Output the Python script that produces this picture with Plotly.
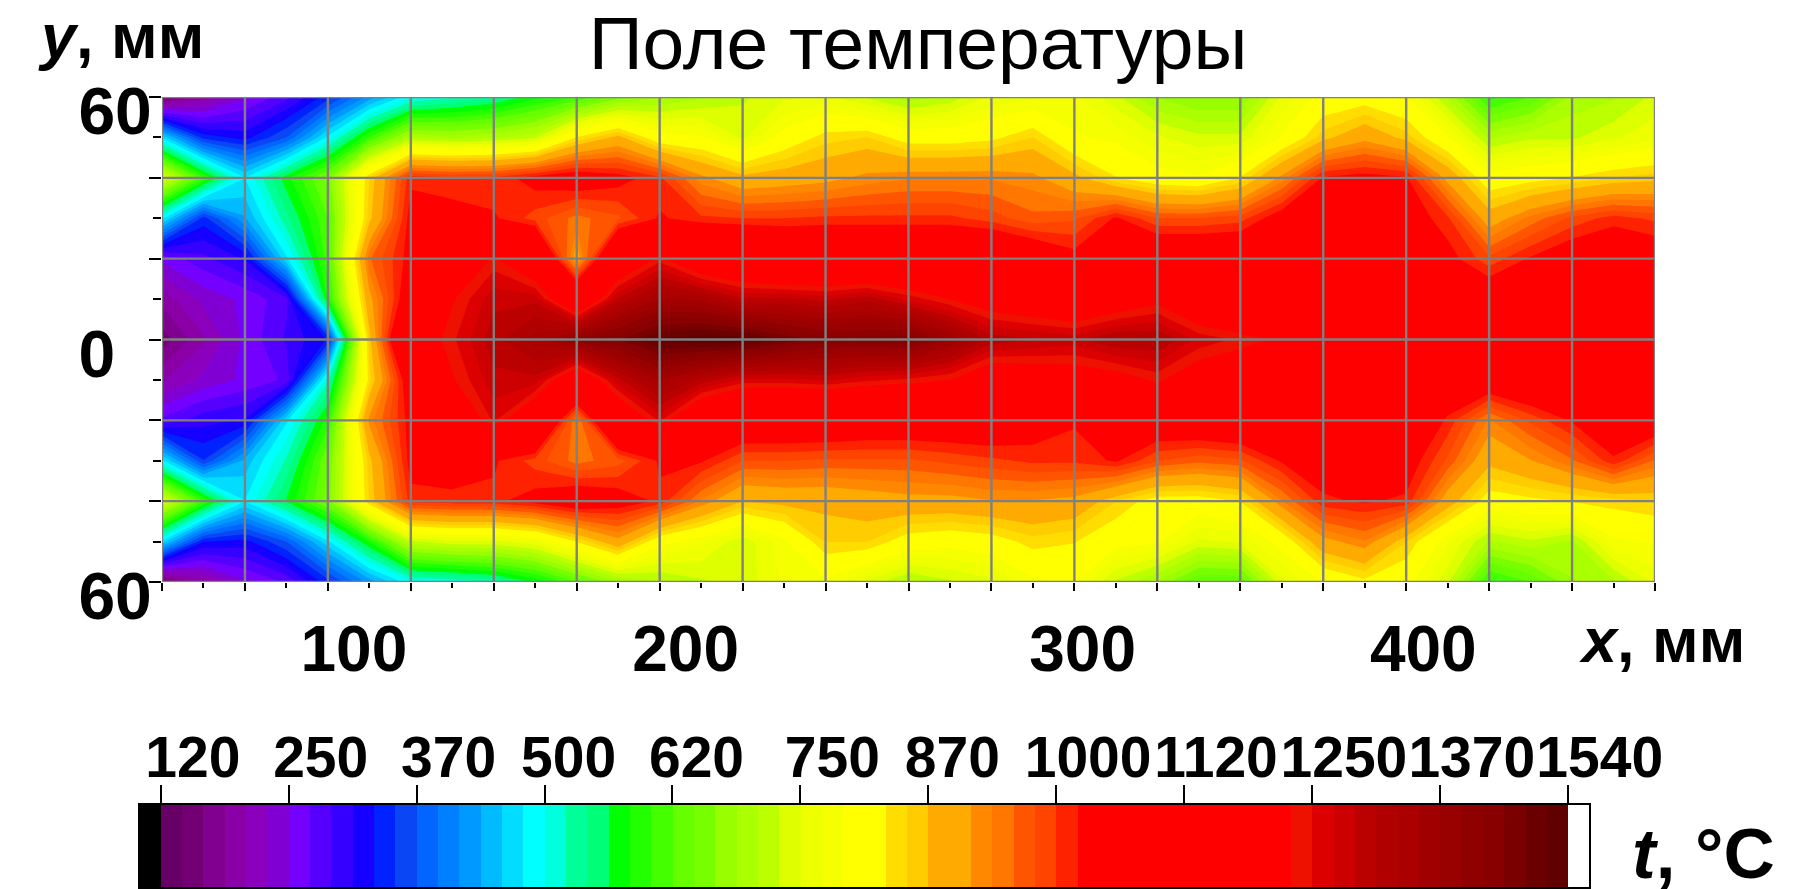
import plotly.graph_objects as go

W, H = 1818, 889

# x positions of the measuring grid, half-cell resolution
x_mm = [50 + 12.5 * i for i in range(37)]
y_mm = [60, 50, 40, 30, 20, 10, 0, -10, -20, -30, -40, -50, -60]

t_p60 = [140,190,240,280,340,420,490,510,530,570,600,650,680,700,720,740,750,720,690,710,750,760,770,730,680,660,660,750,800,810,790,700,590,620,690,700,730]
t_p50 = [470,340,320,370,480,600,700,690,700,720,830,880,800,790,740,800,840,850,810,810,820,850,790,780,750,730,730,790,860,900,860,790,700,720,720,740,760]
t_p40 = [750,600,475,570,650,850,1010,1000,1000,1030,1050,1030,1000,920,880,890,900,920,930,930,930,920,880,830,800,790,830,920,1020,1030,1020,900,800,815,830,850,860]
t_p30 = [480,340,430,530,620,860,1030,1030,1020,985,945,970,1020,1000,995,995,1000,1000,1000,1000,985,960,970,1020,975,975,985,1040,1040,1040,1040,1000,890,940,980,1005,990]
t_p20 = [250,280,310,470,610,950,1030,1150,1230,1150,890,1150,1235,1150,1130,1100,1100,1100,1100,1100,1100,1070,1030,1060,1080,1080,1080,1090,1090,1090,1080,1030,980,1020,1050,1060,1050]
t_p10 = [190,230,250,280,580,900,1060,1220,1280,1280,1130,1290,1350,1340,1290,1290,1280,1300,1260,1224,1190,1170,1150,1180,1210,1160,1130,1100,1080,1080,1080,1060,1060,1080,1080,1080,1080]
t_0 = [150,200,250,290,330,860,1180,1240,1300,1340,1400,1430,1480,1490,1490,1450,1420,1420,1430,1370,1300,1290,1280,1310,1310,1260,1240,1215,1190,1150,1130,1130,1130,1130,1130,1150,1230]
t_m10 = [200,230,250,270,510,840,1060,1220,1280,1280,1150,1280,1350,1300,1260,1260,1270,1250,1240,1224,1170,1180,1190,1200,1230,1190,1170,1100,1090,1080,1080,1060,1060,1080,1080,1080,1080]
t_m20 = [270,300,310,470,590,920,1030,1150,1250,1150,930,1150,1250,1130,1070,1070,1070,1060,1060,1060,1060,1040,1020,1040,1060,1070,1080,1080,1080,1080,1080,1010,930,980,1020,1060,1060]
t_m30 = [480,350,440,520,640,860,1030,1030,1020,985,945,965,1020,1020,975,975,970,970,970,980,990,1000,1000,1020,975,960,970,1020,1040,1040,1040,970,880,910,950,1010,950]
t_m40 = [750,600,475,560,650,850,1005,1010,1010,1030,1060,1040,1010,930,870,880,880,890,900,900,910,910,900,850,810,810,830,930,1010,1020,1010,890,810,820,830,840,850]
t_m50 = [470,330,320,370,470,580,720,740,740,760,830,900,800,770,730,780,850,850,810,800,810,840,830,800,790,740,750,800,900,930,850,770,700,720,700,780,790]
t_m60 = [140,190,240,270,340,420,490,500,520,560,620,680,700,720,730,770,780,740,700,720,740,780,790,720,680,620,620,740,790,820,800,730,590,620,680,700,750]

temperature = [t_p60, t_p50, t_p40, t_p30, t_p20, t_p10, t_0, t_m10, t_m20, t_m30, t_m40, t_m50, t_m60]

# colour bands: below range, 66 bands, above range
band_colors = [
    "#000000",
    "#660066","#730073","#800090","#8a00a6","#8b00bd","#8000d4",
    "#7400ff","#5500ff","#3500ff","#1500ff","#0022ff","#0b46f5",
    "#0066ff","#0080ff","#0099ff","#00bbff","#00ddff","#00ffff",
    "#00ffdd","#00ff99","#00ff77","#00ff00","#22ff00","#44ff00",
    "#66ff00","#77ff00","#99ff00","#aaff00","#bbff00","#ddff00",
    "#eeff00","#f5ff00","#ffff00","#ffff00","#ffdd00","#ffcc00",
    "#ffaa00","#ffaa00","#ff8800","#ff7700","#ff5500","#ff4400",
    "#ff2200","#ff0000","#ff0000","#ff0000","#ff0000","#ff0000",
    "#ff0000","#ff0000","#ff0000","#ff0000","#ff0000","#ee1100",
    "#dd0000","#cc0000","#bb0000","#b00000","#aa0000","#a00000",
    "#990000","#8f0000","#880000","#7a0000","#6a0000","#600000",
    "#ffffff",
]
level_start = 120.0
level_step = 125.0 / 6.0
n_levels = len(band_colors) - 1
level_end = level_start + (n_levels - 1) * level_step
scale = [[i / n_levels, c] for i, c in enumerate(band_colors)]

cbar_tick_vals = [120 + 125 * i for i in range(12)]
cbar_tick_text = ["120","250","370","500\u00a0","620\u00a0","750","870\u00a0","1000","1120","1250","1370","1540"]

x_grid = x_mm[::2]
y_grid = [60, 40, 20, 0, -20, -40, -60]
x_tick_text = ["", "", "100", "", "", "", "200", "", "", "", "", "300\u00a0\u00a0", "", "", "", "400\u00a0", "", "", ""]
y_tick_text = ["60", "", "", "0\u00a0\u00a0", "", "", "60"]

FONT = "Liberation Sans"

fig = go.Figure()
fig.add_trace(go.Contour(
    x=x_mm, y=y_mm, z=temperature, colorscale=scale, showscale=False,
    autocontour=False,
    contours=dict(start=level_start, end=level_end, size=level_step, coloring="fill", showlines=False),
    line=dict(width=0, smoothing=0), hoverinfo="skip", xaxis="x", yaxis="y",
))

gx, gy = [], []
for v in x_grid:
    gx += [v, v, None]; gy += [-60, 60, None]
for v in y_grid:
    gx += [x_grid[0], x_grid[-1], None]; gy += [v, v, None]
fig.add_trace(go.Scatter(x=gx, y=gy, mode="lines", line=dict(color="#808080", width=2.4),
                         hoverinfo="skip", showlegend=False, xaxis="x", yaxis="y", cliponaxis=False))

band_centers = [level_start + (i - 0.5) * level_step for i in range(len(band_colors))]
fig.add_trace(go.Heatmap(
    x=band_centers, y=[0], z=[band_centers], colorscale=scale, showscale=False,
    zmin=level_start - level_step / 2, zmax=level_start + (n_levels - 0.5) * level_step,
    hoverinfo="skip", xaxis="x2", yaxis="y2",
))

bold = dict(family=FONT, size=66, color="black", weight="bold")
fig.update_layout(
    template="none",
    width=W, height=H, autosize=False, paper_bgcolor="white", plot_bgcolor="white",
    margin=dict(l=0, r=0, t=0, b=0, pad=0), showlegend=False,
    font=dict(family=FONT, color="black"),
    title=dict(text="Поле температуры", x=918 / W, xanchor="center", y=1 - 69 / H, yanchor="bottom",
               yref="container", automargin=False,
               font=dict(family=FONT, size=75, color="black")),
    xaxis=dict(domain=[162 / W, 1655 / W], range=[50, 500], anchor="y", automargin=False,
               tickmode="array", tickvals=x_grid, ticktext=x_tick_text, tickangle=0,
               ticks="outside", ticklen=8, tickwidth=1.5, tickcolor="black",
               minor=dict(tickmode="array", tickvals=x_mm[1::2], ticks="outside", ticklen=5, tickwidth=1.5, tickcolor="black"),
               ticklabelstandoff=3, ticklabelshift=26, ticklabeloverflow="allow",
               tickfont=dict(family=FONT, size=64, color="black", weight="bold"),
               showgrid=False, zeroline=False, showline=False),
    yaxis=dict(domain=[1 - 582 / H, 1 - 97 / H], range=[-60, 60], anchor="x", automargin=False,
               tickmode="array", tickvals=y_grid, ticktext=y_tick_text, tickangle=0,
               ticks="outside", ticklen=12, tickwidth=1.5, tickcolor="black",
               minor=dict(tickmode="array", tickvals=y_mm[1::2], ticks="outside", ticklen=8, tickwidth=1.5, tickcolor="black"),
               ticklabelstandoff=-16, ticklabelshift=14, ticklabeloverflow="allow",
               tickfont=bold, showgrid=False, zeroline=False, showline=False),
    xaxis2=dict(domain=[139.5 / W, 1589 / W], range=[level_start - level_step, level_end + level_step], anchor="y2", side="top",
                automargin=False,
                tickmode="array", tickvals=cbar_tick_vals, ticktext=cbar_tick_text, tickangle=0,
                ticks="outside", ticklen=18, tickwidth=2, tickcolor="black",
                ticklabelstandoff=-15, ticklabelshift=32, ticklabeloverflow="allow",
                tickfont=dict(family=FONT, size=57, color="black", weight="bold"),
                showgrid=False, zeroline=False, showline=True, linecolor="black", linewidth=2, mirror=True),
    yaxis2=dict(domain=[1 - 887 / H, 1 - 805 / H], range=[-0.5, 0.5], anchor="x2", automargin=False,
                showticklabels=False, ticks="", showgrid=False, zeroline=False,
                showline=True, linecolor="black", linewidth=2, mirror=True),
    annotations=[
        dict(text="<b><i>y</i>, мм</b>", x=36 / W, y=1 - 36 / H, xref="paper", yref="paper",
             xanchor="left", yanchor="middle", showarrow=False, font=dict(family=FONT, size=63, color="black")),
        dict(text="<b><i>x</i>, мм</b>", x=1662 / W, y=1 - 640 / H, xref="paper", yref="paper",
             xanchor="center", yanchor="middle", showarrow=False, font=dict(family=FONT, size=63, color="black")),
        dict(text="<b><i>t</i>, °C</b>", x=1703 / W, y=1 - 853 / H, xref="paper", yref="paper",
             xanchor="center", yanchor="middle", showarrow=False, font=dict(family=FONT, size=71, color="black")),
    ],
)

fig.write_html("out.html", config={"displayModeBar": False}, post_script="document.body.style.margin='0';")
